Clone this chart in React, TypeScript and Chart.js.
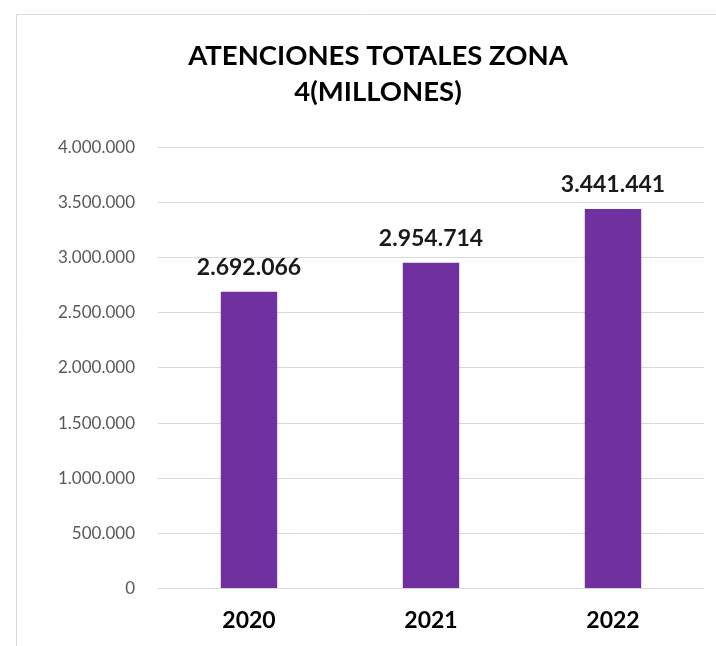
import React, { useEffect, useRef } from "react";
import { Chart, registerables } from "chart.js";

Chart.register(...registerables);

const titleLines = ["ATENCIONES TOTALES ZONA", "4(MILLONES)"];
const categories = ["2020", "2021", "2022"];
const values = [2692066, 2954714, 3441441];
const yMin = 0;
const yMax = 4000000;
const yStep = 500000;

const FONT = "Lato, 'Open Sans', sans-serif";

function fmt(n: number): string {
  return Math.round(n).toString().replace(/\B(?=(\d{3})+(?!\d))/g, ".");
}

const frameAndLabels = {
  id: "frameAndLabels",
  beforeDraw(chart: any) {
    const ctx = chart.ctx;
    ctx.save();
    ctx.fillStyle = "#ffffff";
    ctx.fillRect(0, 0, chart.width, chart.height);
    ctx.strokeStyle = "#d9d9d9";
    ctx.lineWidth = 1;
    ctx.beginPath();
    ctx.moveTo(16.5, chart.height);
    ctx.lineTo(16.5, 14.5);
    ctx.lineTo(chart.width, 14.5);
    ctx.stroke();
    ctx.restore();
  },
  afterDatasetsDraw(chart: any) {
    const ctx = chart.ctx;
    const meta = chart.getDatasetMeta(0);
    ctx.save();
    ctx.font = `bold 23px ${FONT}`;
    ctx.fillStyle = "#1a1a1a";
    ctx.textAlign = "center";
    ctx.textBaseline = "alphabetic";
    meta.data.forEach((bar: any, i: number) => {
      ctx.fillText(fmt(values[i]), bar.x, bar.y - 17);
    });
    ctx.restore();
  },
};

export default function App() {
  const ref = useRef<HTMLCanvasElement | null>(null);

  useEffect(() => {
    document.body.style.margin = "0";
    document.body.style.overflow = "hidden";
    const canvas = ref.current;
    if (!canvas) return;
    const chart = new Chart(canvas, {
      type: "bar",
      data: {
        labels: categories,
        datasets: [
          {
            data: values,
            backgroundColor: "#7030a0",
            borderWidth: 0,
            categoryPercentage: 1,
            barPercentage: 0.31,
          },
        ],
      },
      options: {
        animation: false,
        responsive: false,
        maintainAspectRatio: false,
        layout: { padding: { left: 52, right: 12, top: 0, bottom: -6 } },
        plugins: {
          legend: { display: false },
          tooltip: { enabled: false },
          title: {
            display: true,
            text: titleLines,
            color: "#000000",
            font: { family: FONT, size: 27.5, weight: "bold", lineHeight: 1.3 },
            padding: { top: 38, bottom: 38 },
          },
        },
        scales: {
          x: {
            grid: { display: false, drawTicks: false },
            border: { display: false },
            ticks: {
              color: "#000000",
              font: { family: FONT, size: 23, weight: "bold" },
              padding: 18,
            },
          },
          y: {
            min: yMin,
            max: yMax,
            afterFit: (scale: any) => {
              scale.width = 106;
            },
            grid: { color: "#d9d9d9", lineWidth: 1, drawTicks: false },
            border: { display: false },
            ticks: {
              stepSize: yStep,
              color: "#595959",
              font: { family: FONT, size: 17 },
              padding: 23,
              callback: (v: any) => fmt(Number(v)),
            },
          },
        },
      },
      plugins: [frameAndLabels],
    });
    return () => chart.destroy();
  }, []);

  return (
    <div style={{ position: "fixed", left: 0, top: 0, width: 716, height: 646 }}>
      <canvas ref={ref} width={716} height={646} style={{ display: "block" }} />
    </div>
  );
}
